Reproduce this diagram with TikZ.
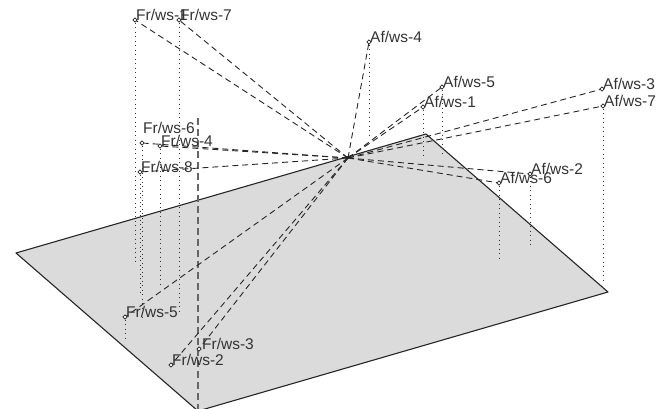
\documentclass[tikz,border=0pt]{standalone}
\usepackage{fontspec}
\setmainfont{Liberation Sans}
\usepackage{tikz}
\usetikzlibrary{shapes.geometric}
\usepackage{xcolor}

\begin{document}
\begin{tikzpicture}[x=1pt,y=-1pt,font=\fontsize{15.5}{18}\selectfont,
  plane/.style={draw=black!85,line width=1.1pt,fill=black!14,line join=round},
  ray/.style={black!85,line width=0.9pt,dash pattern=on 6pt off 4pt},
  drop/.style={black!80,line width=0.9pt,dash pattern=on 0.9pt off 3.6pt},
  axisline/.style={black!60,line width=1.3pt,dash pattern=on 7pt off 4pt},
  pt/.style={draw=black!85,diamond,inner sep=0pt,minimum size=4.5pt,line width=0.6pt,fill=white},
  lab/.style={anchor=base west,inner sep=0pt,text=black!80}]
\useasboundingbox (0,0) rectangle (671,408);
% ground plane
\coordinate (pl) at (16,253);
\coordinate (pt) at (426,134);
\coordinate (pr) at (608,292);
\coordinate (pb) at (198,411);
\draw[plane] (pl) -- (pt) -- (pr) -- (pb) -- cycle;
\coordinate (ax) at (198,118);
\draw[axisline] (ax) -- (pb);
% origin
\coordinate (o) at (348,158);
% points
\node[pt] (fr1) at (135,20) {};
\node[pt] (fr7) at (179,20) {};
\node[pt] (fr6) at (142,143) {};
\node[pt] (fr4) at (160,146) {};
\node[pt] (fr8) at (140,172) {};
\node[pt] (fr5) at (125,317) {};
\node[pt] (fr2) at (171,365) {};
\node[pt] (fr3) at (199,349) {};
\node[pt] (af4) at (369,42) {};
\node[pt] (af5) at (442,87) {};
\node[pt] (af1) at (423,107) {};
\node[pt] (af3) at (602,89) {};
\node[pt] (af7) at (603,106) {};
\node[pt] (af2) at (530,174) {};
\node[pt] (af6) at (499,183) {};
% feet on the plane
\coordinate (fr1g) at (135,262);
\coordinate (fr7g) at (179,312);
\coordinate (fr6g) at (142,320);
\coordinate (fr4g) at (160,285);
\coordinate (fr8g) at (140,292);
\coordinate (fr5g) at (125,340);
\coordinate (af4g) at (369,137);
\coordinate (af5g) at (442,155);
\coordinate (af1g) at (423,155);
\coordinate (af7g) at (603,282);
\coordinate (af2g) at (530,248);
\coordinate (af6g) at (499,260);
\draw[drop] (fr1) -- (fr1g);
\draw[drop] (fr7) -- (fr7g);
\draw[drop] (fr6) -- (fr6g);
\draw[drop] (fr4) -- (fr4g);
\draw[drop] (fr8) -- (fr8g);
\draw[drop] (fr5) -- (fr5g);
\draw[drop] (af4) -- (af4g);
\draw[drop] (af5) -- (af5g);
\draw[drop] (af1) -- (af1g);
\draw[drop] (af7) -- (af7g);
\draw[drop] (af2) -- (af2g);
\draw[drop] (af6) -- (af6g);
% rays from the origin
\draw[ray] (o) -- (fr1);
\draw[ray] (o) -- (fr7);
\draw[ray] (o) -- (fr6);
\draw[ray] (o) -- (fr4);
\draw[ray] (o) -- (fr8);
\draw[ray] (o) -- (fr5);
\draw[ray] (o) -- (fr2);
\draw[ray] (o) -- (fr3);
\draw[ray] (o) -- (af4);
\draw[ray] (o) -- (af5);
\draw[ray] (o) -- (af1);
\draw[ray] (o) -- (af3);
\draw[ray] (o) -- (af7);
\draw[ray] (o) -- (af2);
\draw[ray] (o) -- (af6);
% labels
\node[lab] (fr1l) at ([xshift=1pt]fr1.center) {Fr/ws-1};
\node[lab] (fr7l) at ([xshift=1pt]fr7.center) {Fr/ws-7};
\node[lab] (fr6l) at ([xshift=1pt,yshift=10pt]fr6.center) {Fr/ws-6};
\node[lab] (fr4l) at ([xshift=1pt]fr4.center) {Fr/ws-4};
\node[lab] (fr8l) at ([xshift=1pt]fr8.center) {Fr/ws-8};
\node[lab] (fr5l) at ([xshift=1pt]fr5.center) {Fr/ws-5};
\node[lab] (fr2l) at ([xshift=1pt]fr2.center) {Fr/ws-2};
\node[lab] (fr3l) at ([xshift=3pt]fr3.center) {Fr/ws-3};
\node[lab] (af4l) at ([xshift=1pt]af4.center) {Af/ws-4};
\node[lab] (af5l) at ([xshift=1pt]af5.center) {Af/ws-5};
\node[lab] (af1l) at ([xshift=1pt]af1.center) {Af/ws-1};
\node[lab] (af3l) at ([xshift=1pt]af3.center) {Af/ws-3};
\node[lab] (af7l) at ([xshift=1pt]af7.center) {Af/ws-7};
\node[lab] (af2l) at ([xshift=1pt]af2.center) {Af/ws-2};
\node[lab] (af6l) at ([xshift=1pt]af6.center) {Af/ws-6};
\end{tikzpicture}
\end{document}
